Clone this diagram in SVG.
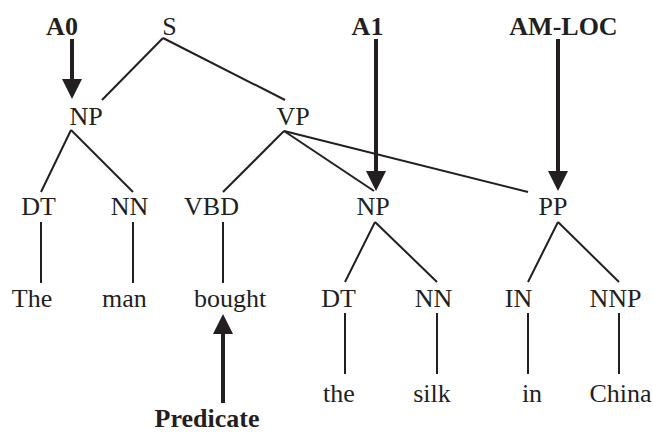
<svg xmlns="http://www.w3.org/2000/svg" width="653" height="432" viewBox="0 0 653 432">
<defs>
<marker id="ah" markerUnits="userSpaceOnUse" markerWidth="20" markerHeight="20" refX="10" refY="10" orient="auto" viewBox="0 0 20 20">
<path d="M0,0 L20,10 L0,20 z" fill="#231f20"/>
</marker>
</defs>
<g id="connectors" stroke="#231f20" fill="none">
<g stroke-width="2">
<line x1="163" y1="38" x2="102" y2="100"/>
<line x1="163" y1="38" x2="285" y2="100"/>
<line x1="71" y1="130" x2="41" y2="192"/>
<line x1="71" y1="130" x2="133" y2="192"/>
<line x1="284" y1="131" x2="223" y2="192"/>
<line x1="284" y1="131" x2="374" y2="191"/>
<line x1="284" y1="131" x2="528" y2="192"/>
<line x1="41" y1="222" x2="41" y2="283"/>
<line x1="133" y1="222" x2="133" y2="283"/>
<line x1="223" y1="222" x2="223" y2="283"/>
<line x1="375" y1="222" x2="345" y2="282"/>
<line x1="375" y1="222" x2="437" y2="282"/>
<line x1="558" y1="222" x2="528" y2="282"/>
<line x1="558" y1="222" x2="619" y2="282"/>
<line x1="345" y1="313" x2="345" y2="374"/>
<line x1="437" y1="313" x2="437" y2="374"/>
<line x1="528" y1="313" x2="528" y2="374"/>
<line x1="619" y1="313" x2="619" y2="374"/>
</g>
<g stroke-width="4" marker-end="url(#ah)">
<line x1="72" y1="39" x2="72" y2="89"/>
<line x1="376" y1="39" x2="376" y2="181"/>
<line x1="558" y1="39" x2="558" y2="181"/>
<line x1="223" y1="403" x2="223" y2="324"/>
</g>
</g>
<g font-family="Times New Roman, Times, Liberation Serif, serif" font-size="26" fill="#231f20" text-anchor="middle">
<g font-weight="bold">
<g id="A0"><text x="62" y="35">A0</text></g>
<g id="A1"><text x="367.5" y="35">A1</text></g>
<g id="AM-LOC"><text x="563.5" y="35">AM-LOC</text></g>
<g id="Predicate"><text x="207" y="427">Predicate</text></g>
</g>
<g id="S"><text x="169.5" y="35">S</text></g>
<g id="NP1"><text x="86" y="125">NP</text></g>
<g id="VP"><text x="293" y="125">VP</text></g>
<g id="DT1"><text x="38.5" y="215">DT</text></g>
<g id="NN1"><text x="129.5" y="215">NN</text></g>
<g id="VBD"><text x="211.5" y="215">VBD</text></g>
<g id="NP2"><text x="373" y="215">NP</text></g>
<g id="PP"><text x="553" y="215">PP</text></g>
<g id="The"><text x="32" y="307">The</text></g>
<g id="man"><text x="124.5" y="307">man</text></g>
<g id="bought"><text x="230" y="307">bought</text></g>
<g id="DT2"><text x="338.5" y="307">DT</text></g>
<g id="NN2"><text x="433.5" y="307">NN</text></g>
<g id="IN"><text x="518.5" y="307">IN</text></g>
<g id="NNP"><text x="615.5" y="307">NNP</text></g>
<g id="the"><text x="339" y="402">the</text></g>
<g id="silk"><text x="432" y="402">silk</text></g>
<g id="in"><text x="532" y="402">in</text></g>
<g id="China"><text x="620.5" y="402">China</text></g>
</g>
</svg>
